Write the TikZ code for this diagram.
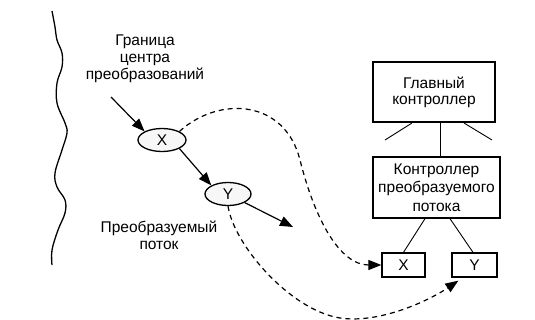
\documentclass[tikz,border=0pt]{standalone}
\usepackage{fontspec}
\setmainfont{Liberation Sans}
\usetikzlibrary{arrows.meta,shapes.geometric,calc}
\begin{document}
\begin{tikzpicture}[x=1pt,y=-1pt,
  every node/.style={font=\fontsize{15.5}{17}\selectfont, inner sep=0pt},
  lbl/.style={align=center},
  ell/.style={draw, ellipse, line width=1.3pt, fill=gray!6, minimum width=48pt, minimum height=23pt},
  box/.style={draw, line width=1.3pt, align=center},
  sbox/.style={draw, line width=1.3pt, minimum height=24pt},
  arr/.style={line width=1.2pt, -{Triangle[length=13pt,width=10pt]}},
  dsh/.style={line width=1.2pt, dash pattern=on 5pt off 4pt, -{Triangle[length=13pt,width=10pt]}},
  thinline/.style={line width=0.9pt}
]
\useasboundingbox (0,0) rectangle (535,319);

% boundary
\draw[line width=1.3pt] plot[smooth,tension=0.6] coordinates {(52,11) (55,27) (57,40) (62,53) (62,67) (57,83) (57,103) (65,123) (67,133) (62,150) (55,173) (57,187) (65,200) (65,213) (58,230) (52,250) (52,265)};

% labels
\node[lbl, anchor=north] (t1) at (145,35) {Граница\\центра\\преобразований};
\node[lbl, anchor=north] (t2) at (159,221) {\fontsize{15.5}{16}\selectfont Преобразуемый\\поток};

% ellipses
\node[ell] (X) at (162,140) {X};
\node[ell, minimum width=46pt] (Y) at (228,194) {Y};

% controllers
\node[box, minimum width=122pt, minimum height=60pt, font=\fontsize{15.5}{16}\selectfont] (B1) at (434,92) {Главный\\контроллер};
\node[box, minimum width=127pt, minimum height=61pt, font=\fontsize{15.5}{18.5}\selectfont] (B2) at (436.5,187.5) {Контроллер\\преобразуемого\\потока};
\node[sbox, minimum width=43pt] (Xb) at (403.5,265) {X};
\node[sbox, minimum width=45pt] (Yb) at (474.5,265) {Y};

% flow arrows
\coordinate (a0) at (111,97);
\coordinate (a1) at (293,227);
\draw[arr] (a0) -- (X.north west);
\draw[arr] (X.south east) -- (Y.north west);
\draw[arr] (Y.south east) -- (a1);

% tree lines
\coordinate (l1) at (385,140);
\coordinate (l2) at (412,123);
\coordinate (r1) at (464,123);
\coordinate (r2) at (492,140);
\draw[thinline] (l1) -- (l2);
\draw[thinline] (r1) -- (r2);
\draw[thinline] ($(B1.south)+(6,0)$) -- ($(B2.north)+(3.5,0)$);
\draw[thinline] ($(B2.south)+(-11.5,0)$) -- (Xb.north);
\draw[thinline] ($(B2.south)+(13.5,0)$) -- ($(Yb.north)+(-1.5,0)$);

% dashed mappings
\draw[dsh] (X.north east) .. controls (220,95) and (285,100) .. (300,160) .. controls (315,220) and (340,265) .. (Xb.west);
\draw[dsh] (Y.south) .. controls (234,245) and (290,310) .. (340,318) .. controls (380,324) and (430,300) .. ([xshift=7pt,yshift=-3pt]Yb.south west);
\end{tikzpicture}
\end{document}
